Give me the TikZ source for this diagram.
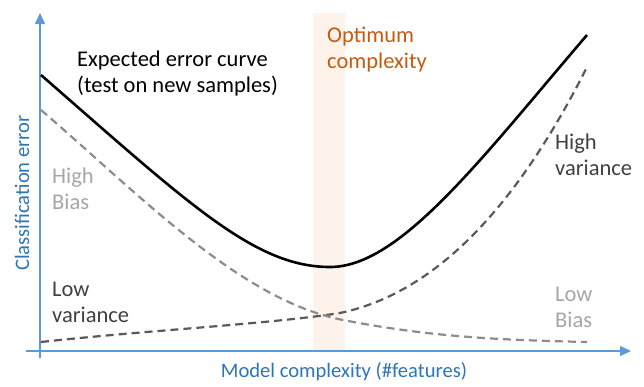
\documentclass[tikz,border=0pt]{standalone}
\usepackage{fontspec}
\setmainfont{Carlito}
\usetikzlibrary{arrows.meta,positioning}
\definecolor{axisblue}{RGB}{91,155,213}
\definecolor{axistext}{RGB}{46,117,182}
\definecolor{optorange}{RGB}{197,90,17}
\definecolor{bandfill}{RGB}{253,243,235}
\definecolor{lightgray}{RGB}{166,166,166}
\definecolor{darkgray}{RGB}{64,64,64}
\begin{document}
\begin{tikzpicture}[x=1pt,y=-1pt,
    lbl/.style={inner sep=0,align=left,anchor=north west,font=\fontsize{22.5}{26}\selectfont},
    axlbl/.style={inner sep=0,text=axistext,font=\fontsize{20.6}{24}\selectfont},
    axis/.style={draw=axisblue,line width=1.3pt,-{Triangle[length=11pt,width=10pt]}},
    dashcurve/.style={line width=2.2pt,dash pattern=on 8pt off 5pt}]
    \useasboundingbox (0,0) rectangle (644,386);
    \fill[bandfill] (313,13) rectangle (345,351);
    \coordinate (ybot) at (40,358);
    \coordinate (ytop) at (40,13);
    \coordinate (xleft) at (26,351);
    \coordinate (xright) at (631,351);
    \draw[axis] (ybot) -- (ytop);
    \draw[axis] (xleft) -- (xright);
    % curves
    \draw[line width=2.6pt] (41,75) .. controls (190,205) and (255,267) .. (330,267) .. controls (400,267) and (480,160) .. (587,35);
    \draw[dashcurve,draw=black!65] (41,342) .. controls (150,330) and (270,324) .. (340,313) .. controls (440,292) and (520,200) .. (587,67);
    \draw[dashcurve,draw=black!45] (41,110) .. controls (140,195) and (240,300) .. (343,320) .. controls (430,337) and (500,340) .. (587,342);
    % labels
    \node[lbl] (expected) at (77,51) {Expected error curve\\(test on new samples)};
    \node[lbl,text=optorange] (optimum) at (327,27) {Optimum\\complexity};
    \node[lbl,text=lightgray] (highbias) at (52,168) {High\\Bias};
    \node[lbl,text=darkgray] (lowvar) at (52,282) {Low\\variance};
    \node[lbl,text=darkgray] (highvar) at (555,134) {High\\variance};
    \node[lbl,text=lightgray] (lowbias) at (555,287) {Low\\Bias};
    \node[axlbl] (xlabel) at (344,372) {Model complexity (\#features)};
    \node[axlbl,rotate=90] (ylabel) at (22,193) {Classification error};
\end{tikzpicture}
\end{document}
